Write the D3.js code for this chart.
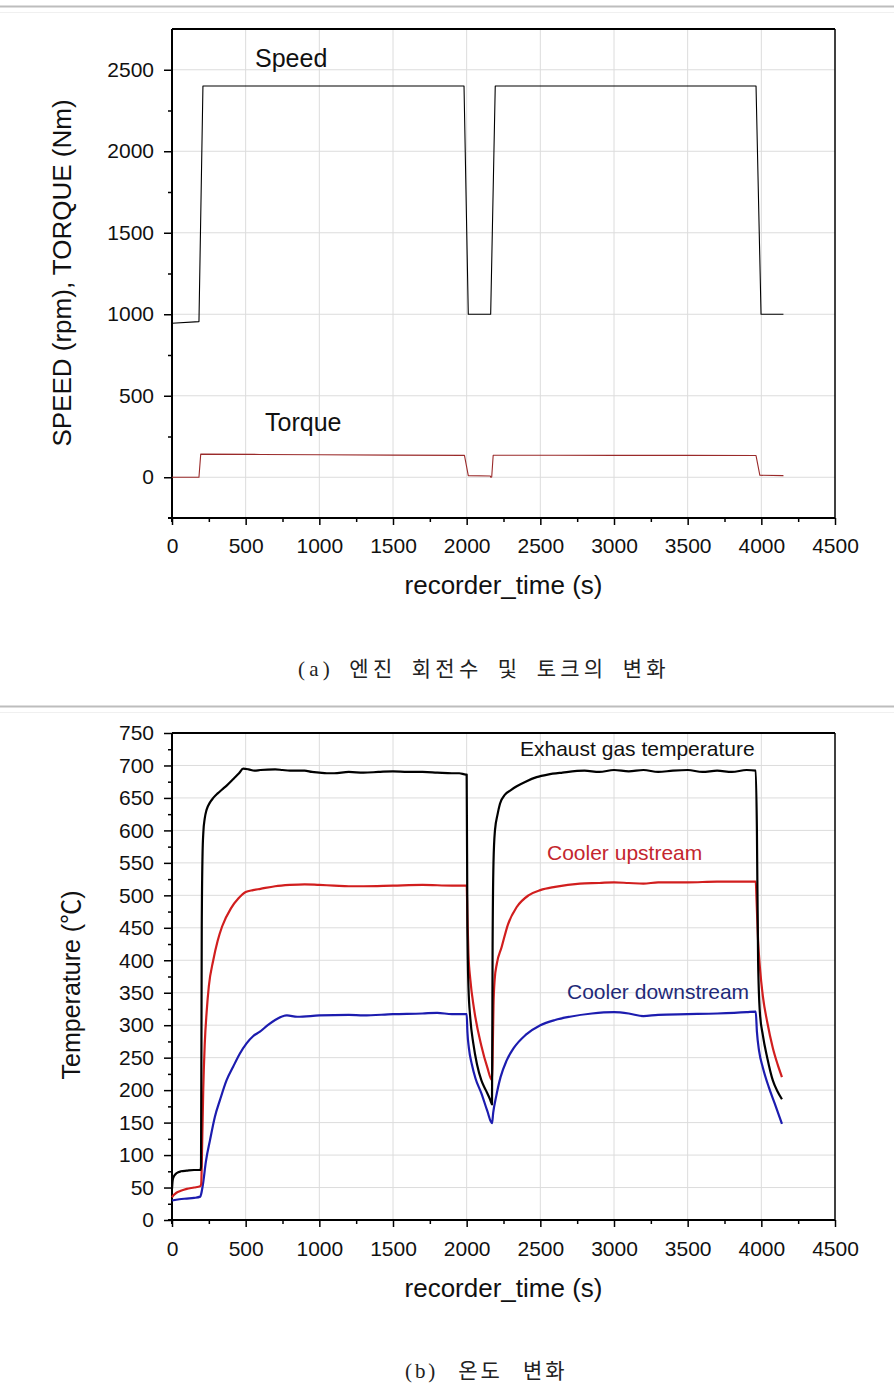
<!DOCTYPE html>
<html><head><meta charset="utf-8">
<script src="https://cdn.jsdelivr.net/npm/d3@7"></script>
<style>body{margin:0;background:#fff}</style>
</head><body>
<svg id="c" width="894" height="1386" xmlns="http://www.w3.org/2000/svg"></svg>
<script>
// ---------- DATA ----------
const xTickValues = [0,500,1000,1500,2000,2500,3000,3500,4000,4500];
const topYTickValues = [0,500,1000,1500,2000,2500];
const botYTickValues = [0,50,100,150,200,250,300,350,400,450,500,550,600,650,700,750];

// Panel (a): engine speed (rpm) and torque (Nm)  [time s, value]
const speed = [[0,945],[183,955],[210,2400],[1982,2400],[2011,1000],[2163,1000],[2194,2400],[3964,2400],[3998,1000],[4150,1000]];
const torque = [[0,0],[183,0],[195,142],[600,140],[1000,138],[1500,136],[1985,134],[2011,10],[2160,8],[2164,0],[2170,2],[2180,135],[2600,135],[3000,134],[3500,134],[3964,133],[3990,12],[4150,10]];

// Panel (b): temperatures (°C)  [time s, value]
const exhaust = [[0,48],[5,62],[15,68],[30,72],[60,75],[100,76],[150,77],[192,77],[197,82],[202,450],[207,560],[213,598],[222,618],[235,632],[255,642],[280,650],[310,657],[340,663],[371,669],[420,680],[455,688],[483,695],[520,694],[560,692],[600,693],[700,694],[750,693],[800,692],[900,692],[950,690],[1000,689],[1050,688],[1100,688],[1200,690],[1300,689],[1400,690],[1500,691],[1600,690],[1700,690],[1800,689],[1900,688],[1950,688],[1995,686],[2000,686],[2005,450],[2012,360],[2025,310],[2045,272],[2070,240],[2100,215],[2130,200],[2160,185],[2172,178],[2176,420],[2182,550],[2192,600],[2210,625],[2226,641],[2260,655],[2300,662],[2340,668],[2400,675],[2475,682],[2550,686],[2650,689],[2800,692],[2900,690],[3000,693],[3100,691],[3200,693],[3300,690],[3400,692],[3500,693],[3600,690],[3700,692],[3800,690],[3900,693],[3962,692],[3970,600],[3978,400],[3990,320],[4010,285],[4040,250],[4078,215],[4110,198],[4140,186]];
const upstream = [[0,35],[10,38],[30,42],[60,45],[100,48],[150,50],[192,52],[198,55],[205,120],[212,200],[222,270],[235,320],[250,360],[280,400],[310,430],[340,452],[400,480],[450,495],[500,505],[550,508],[600,510],[700,514],[800,516],[900,517],[1000,516],[1100,515],[1200,514],[1300,514],[1500,515],[1700,516],[1900,515],[2000,515],[2005,470],[2012,410],[2025,370],[2050,325],[2100,268],[2140,235],[2172,215],[2176,250],[2182,330],[2190,370],[2205,395],[2237,420],[2280,455],[2340,482],[2420,500],[2500,508],[2600,513],[2769,518],[2900,519],[3000,520],[3100,519],[3200,518],[3300,520],[3500,520],[3700,521],[3900,521],[3962,521],[3968,490],[3978,430],[3990,390],[4010,345],[4040,305],[4078,265],[4110,240],[4140,220]];
const downstream = [[0,30],[50,32],[100,33],[150,34],[192,36],[198,40],[210,55],[230,90],[258,123],[290,158],[326,185],[370,215],[415,236],[460,256],[506,272],[550,283],[597,290],[650,300],[700,308],[780,315],[850,313],[1000,315],[1200,316],[1300,315],[1500,317],[1700,318],[1800,319],[1900,317],[2000,317],[2005,290],[2015,265],[2035,240],[2060,218],[2100,195],[2140,168],[2172,149],[2180,165],[2200,190],[2230,220],[2270,245],[2320,265],[2400,285],[2500,300],[2600,308],[2700,313],[2850,318],[3000,320],[3100,318],[3200,314],[3300,316],[3500,317],[3700,318],[3900,320],[3962,321],[3970,290],[3985,260],[4010,235],[4050,205],[4090,180],[4140,148]];

const captionA = "(a) 엔진 회전수 및 토크의 변화";
const captionB = "(b) 온도 변화";

// ---------- DRAW ----------
const svg = d3.select('#c');
const SANS = "'Liberation Sans', Arial, sans-serif";

function sep(y){
  svg.append('line').attr('x1',0).attr('x2',894).attr('y1',y).attr('y2',y).attr('stroke','#bdbdbd').attr('stroke-width',2);
  svg.append('line').attr('x1',0).attr('x2',894).attr('y1',y+6).attr('y2',y+6).attr('stroke','#f0f0f0').attr('stroke-width',1);
}
sep(6.5);
sep(706.5);

function panel(o){
  const x = d3.scaleLinear().domain([0,4500]).range([172,835]);
  const y = d3.scaleLinear().domain(o.yDomain).range([o.bottom,o.top]);
  const g = svg.append('g');
  // grid
  g.append('g').selectAll('line').data(xTickValues.filter(d=>d>0&&d<4500)).join('line')
    .attr('x1',d=>x(d)).attr('x2',d=>x(d)).attr('y1',o.top).attr('y2',o.bottom)
    .attr('stroke','#dcdcdc').attr('stroke-width',1);
  g.append('g').selectAll('line').data(o.yTicks.filter(d=>y(d)<o.bottom-1&&y(d)>o.top+1)).join('line')
    .attr('x1',172).attr('x2',835).attr('y1',d=>y(d)).attr('y2',d=>y(d))
    .attr('stroke','#dcdcdc').attr('stroke-width',1);
  // frame top/right
  g.append('line').attr('x1',172).attr('x2',835).attr('y1',o.top).attr('y2',o.top).attr('stroke','#000').attr('stroke-width',2);
  g.append('line').attr('x1',835).attr('x2',835).attr('y1',o.top).attr('y2',o.bottom).attr('stroke','#000').attr('stroke-width',1.5);
  // minor ticks
  const xMinor = d3.range(250,4500,500);
  g.append('g').attr('transform',`translate(0,${o.bottom})`)
    .call(d3.axisBottom(x).tickValues(xMinor).tickSize(4).tickFormat(''))
    .call(s=>{s.select('.domain').remove(); s.selectAll('line').attr('stroke-width',1.5);});
  g.append('g').attr('transform','translate(172,0)')
    .call(d3.axisLeft(y).tickValues(o.yMinor).tickSize(4).tickFormat(''))
    .call(s=>{s.select('.domain').remove(); s.selectAll('line').attr('stroke-width',1.5);});
  // major axes
  const xa = g.append('g').attr('transform',`translate(0,${o.bottom})`)
    .call(d3.axisBottom(x).tickValues(xTickValues).tickSizeInner(7).tickSizeOuter(0).tickPadding(o.xPad).tickFormat(d3.format('d')));
  xa.select('.domain').attr('stroke-width',2).attr('d',`M168,0H835`);
  xa.selectAll('line').attr('stroke-width',1.5);
  xa.selectAll('text').attr('font-family',SANS).attr('font-size',21).attr('fill','#111');
  const ya = g.append('g').attr('transform','translate(172,0)')
    .call(d3.axisLeft(y).tickValues(o.yTicks).tickSizeInner(8).tickSizeOuter(0).tickPadding(10).tickFormat(d3.format('d')));
  ya.select('.domain').attr('stroke-width',2).attr('d',`M0,${o.bottom+4}V${o.top}`);
  ya.selectAll('line').attr('stroke-width',1.5);
  ya.selectAll('text').attr('font-family',SANS).attr('font-size',21).attr('fill','#111');
  // titles
  g.append('text').attr('x',503.5).attr('y',o.xTitleY).attr('text-anchor','middle')
    .attr('font-family',SANS).attr('font-size',26).attr('fill','#111').text('recorder_time (s)');
  g.append('text').attr('transform',`translate(${o.yTitleX},${o.yTitleY}) rotate(-90)`).attr('text-anchor','middle')
    .attr('font-family',SANS+", 'Noto Sans CJK KR'").attr('font-size',o.yTitleSize).attr('fill','#111').text(o.yTitle);
  // series
  const line = d3.line().x(d=>x(d[0])).y(d=>y(d[1])).curve(o.curve);
  o.series.forEach(s=>{
    g.append('path').datum(s.data).attr('d',line).attr('fill','none')
      .attr('stroke',s.color).attr('stroke-width',s.width).attr('stroke-linejoin','round');
  });
  o.labels.forEach(l=>{
    g.append('text').attr('x',l.x).attr('y',l.y).attr('font-family',SANS).attr('font-size',l.size)
      .attr('fill',l.color).text(l.text);
  });
}

panel({
  top:29, bottom:518, yDomain:[-250,2750], yTicks:topYTickValues, yMinor:d3.range(250,2750,500),
  xPad:13, xTitleY:594, yTitle:'SPEED (rpm), TORQUE (Nm)', yTitleX:71, yTitleY:273, yTitleSize:26,
  curve:d3.curveLinear,
  series:[{data:speed,color:'#000',width:1.1},{data:torque,color:'#9a2a2a',width:1.1}],
  labels:[{text:'Speed',x:255,y:67,size:25,color:'#111'},{text:'Torque',x:265,y:431,size:25,color:'#111'}]
});

panel({
  top:733, bottom:1220, yDomain:[0,750], yTicks:botYTickValues, yMinor:d3.range(25,750,50),
  xPad:14, xTitleY:1297, yTitle:'Temperature (℃)', yTitleX:80, yTitleY:985, yTitleSize:25,
  curve:d3.curveMonotoneX,
  series:[{data:downstream,color:'#1c1caf',width:2.2},{data:upstream,color:'#d11e1e',width:2.2},{data:exhaust,color:'#000',width:2.2}],
  labels:[{text:'Exhaust gas temperature',x:520,y:756,size:21,color:'#111'},
          {text:'Cooler upstream',x:547,y:860,size:21,color:'#c4262e'},
          {text:'Cooler downstream',x:567,y:999,size:21,color:'#1f2a78'}]
});

// captions
const CAP = "'Liberation Serif', 'Noto Sans CJK KR', serif";
svg.append('text').attr('x',298).attr('y',676).attr('font-family',CAP).attr('font-size',21)
  .attr('fill','#222').style('letter-spacing','4.2px').style('word-spacing','6px').text(captionA);
svg.append('text').attr('x',405).attr('y',1378).attr('font-family',CAP).attr('font-size',21)
  .attr('fill','#222').style('letter-spacing','2.9px').style('word-spacing','12px').text(captionB);
</script>
</body></html>
